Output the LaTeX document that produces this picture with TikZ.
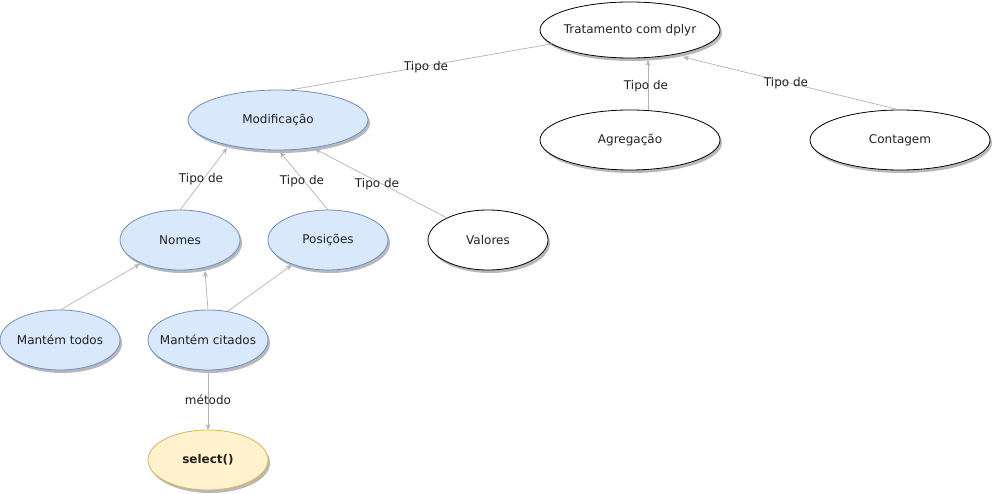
\documentclass[tikz,border=0pt]{standalone}
\usepackage{fontspec}
\setmainfont{DejaVu Sans}
\usetikzlibrary{shapes.geometric,shadows,arrows.meta}
\definecolor{bluefill}{HTML}{DAE8FC}
\definecolor{blueline}{HTML}{6C8EBF}
\definecolor{yelfill}{HTML}{FFF2CC}
\definecolor{yelline}{HTML}{D6B656}
\definecolor{linegray}{HTML}{B3B3B3}
\definecolor{shadowgray}{HTML}{B8B8B8}
\definecolor{txt}{HTML}{222222}
\tikzset{
  basenode/.style={ellipse, line width=0.8pt, minimum width=120pt, minimum height=60pt,
    inner sep=-10pt, outer sep=0pt, font=\fontsize{12}{14}\selectfont, text=txt,
    drop shadow={shadow xshift=2pt, shadow yshift=-3pt, fill=shadowgray, opacity=1}},
  widenode/.style={minimum width=180pt},
  plainnode/.style={basenode, fill=white, draw=black},
  bluenode/.style={basenode, fill=bluefill, draw=blueline},
  yelnode/.style={basenode, fill=yelfill, draw=yelline, font=\fontsize{12}{14}\selectfont\bfseries},
  conn/.style={draw=linegray, line width=0.7pt},
  arr/.style={conn, -{Stealth[length=6pt,width=5pt]}},
  lbl/.style={font=\fontsize{12}{14}\selectfont, text=txt, inner sep=0pt}
}
\begin{document}
\begin{tikzpicture}[x=1pt,y=-1pt]
\useasboundingbox (0,0) rectangle (993,494);
% nodes
\node[plainnode, widenode, minimum height=56pt] (T) at (630,30) {Tratamento com dplyr};
\node[plainnode, widenode] (A) at (630,140) {Agregação};
\node[plainnode, widenode] (C) at (900,140) {Contagem};
\node[bluenode, widenode] (M) at (278,120) {Modificação};
\node[bluenode] (N) at (180,240) {Nomes};
\node[bluenode] (P) at (328,240) {Posições};
\node[plainnode] (V) at (488,240) {Valores};
\node[bluenode] (MT) at (60,340) {Mantém todos};
\node[bluenode] (MC) at (208,340) {Mantém citados};
\node[yelnode] (S) at (208,460) {select()};
% connectors
\draw[conn] ([shift={(12,-30)}]M.center) -- (T);
\draw[arr] ([shift={(18,-30)}]A.center) -- ([shift={(18,30)}]T.center);
\draw[arr] (C.north) -- ([shift={(53,27)}]T.center);
\draw[arr] (N.north) -- ([shift={(-51,28)}]M.center);
\draw[arr] (P.north) -- ([shift={(2,32)}]M.center);
\draw[arr] ([shift={(-41,-22)}]V.center) -- ([shift={(37,29)}]M.center);
\draw[arr] (MT.north) -- ([shift={(-40,24)}]N.center);
\draw[arr] (MC.north) -- ([shift={(25,31)}]N.center);
\draw[arr] ([shift={(20,-29)}]MC.center) -- ([shift={(-36,25)}]P.center);
\draw[arr] (MC.south) -- (S.north);
% labels
\node[lbl] (l1) at (426,67) {Tipo de};
\node[lbl] (l2) at (646,86) {Tipo de};
\node[lbl] (l3) at (786,83) {Tipo de};
\node[lbl] (l4) at (201,179) {Tipo de};
\node[lbl] (l5) at (302,181) {Tipo de};
\node[lbl] (l6) at (377,184) {Tipo de};
\node[lbl] (l7) at (208,400) {método};
\end{tikzpicture}
\end{document}
